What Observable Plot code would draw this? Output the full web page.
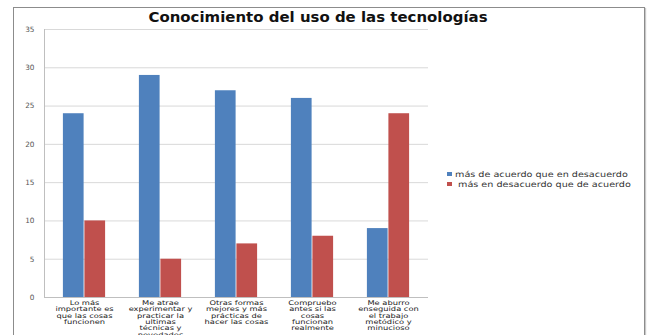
<!DOCTYPE html>
<html>
<head>
<meta charset="utf-8">
<script src="https://cdn.jsdelivr.net/npm/d3@7"></script>
<script src="https://cdn.jsdelivr.net/npm/@observablehq/plot@0.6"></script>
<style>
  html, body { margin: 0; padding: 0; background: #fff; overflow: hidden; }
  #wrap { position: relative; width: 651px; height: 335px; overflow: hidden; font-family: "DejaVu Sans", sans-serif; }
  #border { position: absolute; left: 13px; top: 7px; width: 630px; height: 340px; border: 1px solid #8c8c8c; box-shadow: 1px 1px 1px #c8c8c8; }
  #title { position: absolute; left: 318px; top: 9px; transform: translateX(-50%) scaleX(1.1); white-space: nowrap; font-weight: bold; font-size: 13.6px; color: #111; }
  #chart { position: absolute; left: 0; top: 0; }
  #legend { position: absolute; left: 447px; top: 169px; font-size: 7.9px; color: #333; }
  .item { display: flex; align-items: center; height: 10px; white-space: nowrap; }
  .sw { display: inline-block; width: 5px; height: 4px; margin-right: 3px; flex: none; }
  .txt { display: inline-block; transform: scaleX(1.22); transform-origin: left center; }
</style>
</head>
<body>
<div id="wrap">
  <div id="border"></div>
  <div id="chart"></div>
  <div id="title"></div>
  <div id="legend"></div>
</div>
<script>
const title = "Conocimiento del uso de las tecnologías";
const categories = [
  "Lo más\nimportante es\nque las cosas\nfuncionen",
  "Me atrae\nexperimentar y\npracticar la\nultimas\ntécnicas y\nnovedades",
  "Otras formas\nmejores y más\nprácticas de\nhacer las cosas",
  "Compruebo\nantes si las\ncosas\nfuncionan\nrealmente",
  "Me aburro\nenseguida con\nel trabajo\nmetódico y\nminucioso"
];
const seriesNames = ["más de acuerdo que en desacuerdo", "más en desacuerdo que de acuerdo"];
const acuerdo = [24, 29, 27, 26, 9];
const desacuerdo = [10, 5, 7, 8, 24];
const yTicks = [0, 5, 10, 15, 20, 25, 30, 35];
const colors = ["#4F81BD", "#C0504D"];

const data = [];
categories.forEach((c, i) => {
  data.push({cat: c, series: seriesNames[0], value: acuerdo[i]});
  data.push({cat: c, series: seriesNames[1], value: desacuerdo[i]});
});

const chart = Plot.plot({
  width: 651,
  height: 335,
  marginLeft: 44,
  marginRight: 223,
  marginTop: 29,
  marginBottom: 38,
  style: {fontFamily: "DejaVu Sans, sans-serif", background: "transparent", overflow: "visible"},
  x: {domain: categories, padding: 0, axis: null},
  y: {domain: [0, 35], axis: null},
  color: {domain: seriesNames, range: colors},
  marks: [
    Plot.gridY(yTicks, {stroke: "#d9d9d9", strokeOpacity: 1}),
    Plot.barY(data.filter(d => d.series === seriesNames[0]), {
      x: "cat", y: "value", fill: "series", insetLeft: 16.9, insetRight: 38.4
    }),
    Plot.barY(data.filter(d => d.series === seriesNames[1]), {
      x: "cat", y: "value", fill: "series", insetLeft: 38.4, insetRight: 16.9
    }),
    Plot.ruleY([0], {stroke: "#bfbfbf"}),
    Plot.frame({anchor: "left", stroke: "#bfbfbf"}),
    Plot.axisY({ticks: yTicks, tickSize: 0, tickPadding: 10, fontSize: 7.3, fill: "#555", label: null}),
    Plot.axisX({tickSize: 0, tickPadding: 3, fontSize: 6.4, lineHeight: 0.99, fill: "#222", label: null})
  ]
});
document.getElementById("chart").appendChild(chart);
// widen the category labels horizontally, as in the reference
chart.querySelectorAll('g[aria-label^="x-axis tick label"] text').forEach(t => {
  const tr = t.getAttribute("transform") || "";
  t.setAttribute("transform", tr + " scale(1.3,1)");
});
document.getElementById("title").textContent = title;

const legend = document.getElementById("legend");
seriesNames.forEach((s, i) => {
  const row = document.createElement("div");
  row.className = "item";
  const sw = document.createElement("span");
  sw.className = "sw";
  sw.style.background = colors[i];
  if (i === 1) sw.style.marginRight = "6px";
  row.appendChild(sw);
  const tx = document.createElement("span");
  tx.className = "txt";
  tx.textContent = s;
  row.appendChild(tx);
  legend.appendChild(row);
});
</script>
</body>
</html>
